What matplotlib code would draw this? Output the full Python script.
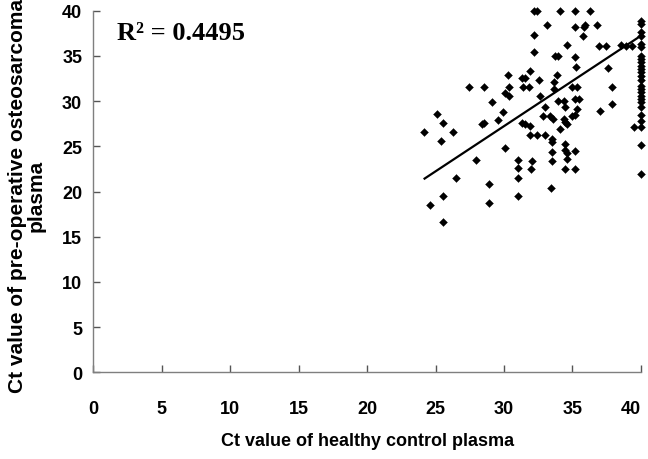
import matplotlib
matplotlib.use("Agg")
import matplotlib.pyplot as plt
import numpy as np

# ---- data ----
healthy_ct = [
    27.44, 28.57, 30.37, 31.38, 30.08, 30.37, 29.16, 25.14, 25.56, 24.17,
    26.29, 25.38, 28.37, 28.54, 29.55, 29.96, 31.31, 30.08, 27.98, 31.01,
    31.01, 30.33, 31.31, 31.55, 26.49, 25.56, 24.58, 25.56, 28.94, 28.94,
    31.01, 31.01, 31.99, 34.44, 35.22, 33.46, 31.80, 33.63, 34.97, 35.34,
    37.86, 32.65, 33.95, 34.37, 35.22, 35.47, 37.86, 32.97, 34.48, 35.34,
    36.98, 32.85, 33.38, 33.56, 34.37, 34.97, 35.22, 31.55, 31.91, 34.12,
    34.61, 34.48, 31.91, 32.41, 32.97, 33.51, 33.51, 34.44, 34.44, 34.61,
    34.61, 35.22, 33.51, 33.51, 32.04, 39.50, 32.16, 32.41, 34.12, 35.22,
    36.32, 33.14, 35.22, 35.95, 35.83, 36.81, 35.76, 32.16, 34.61, 36.93,
    37.42, 38.52, 38.88, 39.38, 32.16, 33.75, 33.95, 35.22, 35.29, 37.62,
    31.91, 33.87, 32.57, 33.63,
    40, 40, 40, 40, 40, 40, 40, 40, 40, 40, 40, 40,
    40, 40, 40, 40, 40, 40, 40, 40, 40, 40, 40, 40, 40, 40,
]
osteosarcoma_ct = [
    31.53, 31.53, 31.53, 31.59, 30.90, 30.60, 29.93, 28.57, 27.54, 26.62,
    26.62, 25.55, 27.47, 27.54, 27.91, 28.76, 27.54, 24.81, 23.48, 23.48,
    22.60, 32.89, 32.52, 32.52, 21.49, 19.54, 18.54, 16.59, 20.80, 18.73,
    21.49, 19.54, 22.49, 22.49, 22.49, 20.39, 31.53, 31.34, 31.53, 31.53,
    31.53, 30.60, 29.98, 29.98, 30.23, 30.23, 29.68, 29.31, 29.38, 29.13,
    28.94, 28.32, 28.32, 28.02, 28.02, 28.39, 28.50, 27.47, 27.28, 26.91,
    27.47, 27.65, 26.28, 26.28, 26.28, 25.80, 25.45, 25.30, 24.60, 24.30,
    23.60, 24.51, 24.40, 23.40, 23.41, 27.10, 40.00, 40.00, 40.00, 40.00,
    40.00, 38.45, 38.16, 38.45, 38.16, 38.45, 37.23, 37.35, 36.24, 36.13,
    36.13, 36.24, 36.13, 36.13, 35.40, 34.96, 34.96, 34.85, 33.74, 33.63,
    33.36, 32.89, 32.33, 32.08,
    38.9, 38.5, 37.6, 37.2, 36.3, 35.0, 34.7, 34.3, 33.9, 33.5, 33.2, 32.3,
    31.7, 31.3, 31.0, 30.6, 30.2, 29.9, 29.3, 28.5, 27.8, 27.1, 25.1, 21.9,
    32.8, 36.0,
]
trend_slope = 1.0
trend_intercept = -2.77
trend_x = [24.2, 40.0]
r2_label = "0.4495"
x_ticks = [0, 5, 10, 15, 20, 25, 30, 35, 40]
y_ticks = [0, 5, 10, 15, 20, 25, 30, 35, 40]
x_title = "Ct value of healthy control plasma"
y_title = "Ct value of pre-operative osteosarcoma\nplasma"

label_font = ["Liberation Sans", "DejaVu Sans"]

fig = plt.figure(figsize=(6.48, 4.60), dpi=100)
ax = fig.add_axes([0.144, 0.1885, 0.845, 0.786])

ax.scatter(healthy_ct, osteosarcoma_ct, marker="D", s=16, color="black",
           edgecolors="black", linewidths=0.3, zorder=3, clip_on=False)

tx = np.array(trend_x)
ax.plot(tx, trend_slope * tx + trend_intercept, color="black", lw=1.6, zorder=4)

ax.set_xlim(0, 40)
ax.set_ylim(0, 40)
ax.set_xticks(x_ticks)
ax.set_yticks(y_ticks)
for s in ["top", "right"]:
    ax.spines[s].set_visible(False)
for s in ["left", "bottom"]:
    ax.spines[s].set_color("#7f7f7f")
    ax.spines[s].set_linewidth(1.0)
ax.tick_params(direction="in", length=5, width=1.0, color="#555555")
ax.tick_params(axis="x", pad=20)
ax.tick_params(axis="y", pad=8)
for lab in ax.get_xticklabels() + ax.get_yticklabels():
    lab.set_family(label_font)
    lab.set_fontweight("bold")
    lab.set_fontsize(13)
ax.get_xticklabels()[-1].set_horizontalalignment("right")
ax.get_xticklabels()[-1].set_x(40)

ax.set_xlabel(x_title, family=label_font, fontweight="bold", fontsize=13, labelpad=11)
ax.set_ylabel(y_title, family=label_font, fontweight="bold", fontsize=15,
              linespacing=1.0, va="center", ha="center")
ax.yaxis.set_label_coords(-0.121, 0.49)

ax.text(0.043, 0.972, "R\u00b2 = " + r2_label, transform=ax.transAxes,
        family=["Liberation Serif", "DejaVu Serif"], fontweight="bold", fontsize=19,
        va="top", ha="left")

fig.savefig("out.png", dpi=100)
